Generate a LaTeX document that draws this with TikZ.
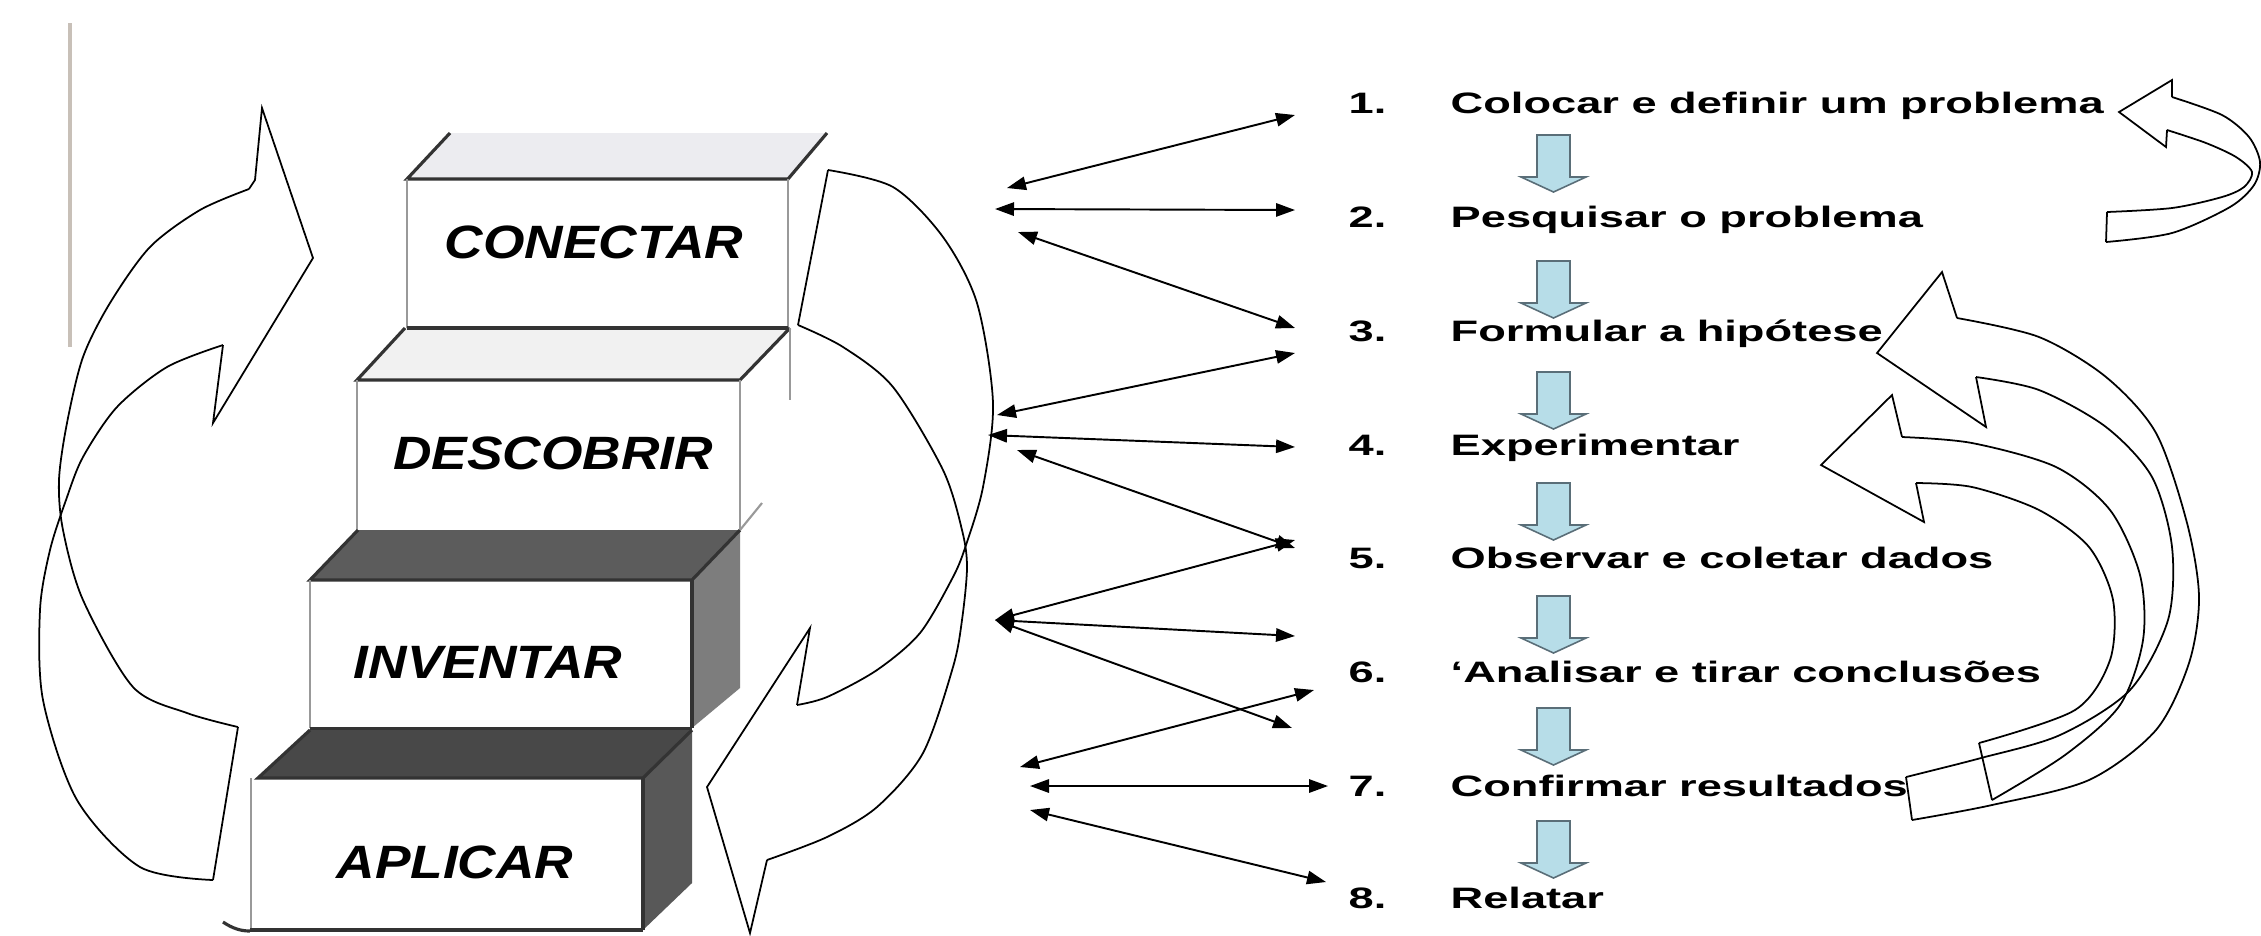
\documentclass[tikz,border=0pt]{standalone}
\usepackage{fontspec}
\setmainfont{Liberation Sans}
\usetikzlibrary{arrows.meta}
\definecolor{flowblue}{RGB}{183,221,232}
\definecolor{flowedge}{RGB}{90,110,120}
\definecolor{topone}{RGB}{236,236,240}
\definecolor{toptwo}{RGB}{241,241,241}
\definecolor{topthree}{RGB}{92,92,92}
\definecolor{topfour}{RGB}{72,72,72}
\definecolor{sidethree}{RGB}{125,125,125}
\definecolor{sidefour}{RGB}{88,88,88}
\definecolor{rulecol}{RGB}{200,192,184}
\newcommand{\myR}[1]{\scalebox{1.53}[1]{#1}}
\newcommand{\myL}[1]{\scalebox{1.14}[1]{#1}}
\newcommand{\flowdown}[1]{\draw[flow] (1537,#1) -- ++(33,0) -- ++(0,42) -- ++(16,0) -- ++(-32.5,15) -- ++(-32.5,-15) -- ++(16,0) -- cycle;}
\begin{document}
\begin{tikzpicture}[x=0.01cm,y=-0.01cm,
  edge/.style={line width=0.5pt,black,line join=miter},
  conn/.style={line width=0.55pt,black,{Triangle[length=5.4pt,width=3.8pt]}-{Triangle[length=5.4pt,width=3.8pt]}},
  flow/.style={fill=flowblue,draw=flowedge,line width=0.45pt},
  stairdark/.style={draw=black!80,line width=0.9pt},
  stairlight/.style={draw=black!40,line width=0.6pt},
  stairlbl/.style={font=\fontsize{13.3}{14}\selectfont\bfseries\itshape,inner sep=0pt,anchor=base},
  steptxt/.style={font=\fontsize{8.4}{9}\selectfont\bfseries,inner sep=0pt,anchor=base west},
]
\useasboundingbox (0,0) rectangle (2261,935);
\fill[white] (0,0) rectangle (2261,935);

% left thin rule
\draw[rulecol,line width=0.9pt] (70,23) -- (70,347);

% ---------- stairs ----------
% CONECTAR
\fill[topone] (407,179) -- (450,133) -- (827,133) -- (788,179) -- cycle;
\fill[white] (407,179) rectangle (788,328);
\draw[stairdark] (450,133) -- (407,179) -- (788,179) -- (827,133);
\draw[stairlight] (407,179) -- (407,328);
\draw[stairlight] (788,179) -- (788,328);
% DESCOBRIR
\fill[toptwo] (357,380) -- (405,328) -- (790,328) -- (740,380) -- cycle;
\fill[white] (357,380) rectangle (740,530);
\draw[stairdark] (405,328) -- (357,380) -- (740,380) -- (790,328);
\draw[stairdark] (407,328) -- (788,328);
\draw[stairlight] (357,380) -- (357,530);
\draw[stairlight] (740,380) -- (740,530);
\draw[stairlight] (790,328) -- (790,400);
% INVENTAR
\fill[topthree] (310,580) -- (358,530) -- (740,530) -- (692,580) -- cycle;
\fill[sidethree] (692,580) -- (740,530) -- (740,688) -- (692,728) -- cycle;
\fill[white] (310,580) rectangle (692,728);
\draw[stairdark] (358,530) -- (310,580) -- (692,580) -- (740,530);
\draw[stairlight] (740,530) -- (762,503);
\draw[stairdark] (692,580) -- (692,728);
\draw[stairlight] (310,580) -- (310,728);
\draw[stairdark] (310,729) -- (692,729);
% APLICAR
\fill[topfour] (258,778) -- (310,730) -- (692,730) -- (643,778) -- cycle;
\fill[sidefour] (643,778) -- (692,730) -- (692,883) -- (643,930) -- cycle;
\fill[white] (251,778) rectangle (643,930);
\draw[stairdark] (310,730) -- (258,778) -- (643,778) -- (692,730);
\draw[stairdark] (643,778) -- (643,930);
\draw[stairlight] (251,778) -- (251,930);
\draw[stairdark] (250,930) -- (643,930);
\draw[stairdark] (223,922) .. controls (232,928) and (240,931) .. (250,931);

% stair labels
\node[stairlbl] (conectar) at (594,258) {\myL{CONECTAR}};
\node[stairlbl] (descobrir) at (553,469) {\myL{DESCOBRIR}};
\node[stairlbl] (inventar) at (488,678) {\myL{INVENTAR}};
\node[stairlbl] (aplicar) at (455,878) {\myL{APLICAR}};

% ---------- left curved arrow ----------
\draw[edge] (249,189) -- (255,180) -- (262,108) -- (313,258) -- (213,423) -- (223,345);
\draw[edge] plot[smooth] coordinates {(249,189) (200,210) (150,247) (110,303) (83,357) (67,423) (59,480) (63,530) (83,600) (133,687) (187,713) (238,727)};
\draw[edge] plot[smooth] coordinates {(223,345) (167,367) (117,407) (83,457) (66,500) (50,550) (40,610) (43,700) (77,800) (140,867) (213,880)};
\draw[edge] (238,727) -- (213,880);

% ---------- right-of-stairs curved arrow ----------
\draw[edge] (828,170) -- (798,325);
\draw[edge] plot[smooth] coordinates {(828,170) (893,187) (943,237) (977,303) (993,403) (983,487) (966,545) (953,577) (920,633) (877,670) (827,697) (797,705)};
\draw[edge] plot[smooth] coordinates {(798,325) (843,347) (893,387) (943,470) (962,530) (967,567) (962,620) (953,667) (923,753) (877,807) (827,837) (767,860)};
\draw[edge] (767,860) -- (750,933) -- (707,787) -- (810,628) -- (797,705);

% ---------- list ----------
\node[steptxt] (n1) at (1348,113) {\myR{1.}};
\node[steptxt] (t1) at (1450,113) {\myR{Colocar e definir um problema}};
\node[steptxt] (n2) at (1348,227) {\myR{2.}};
\node[steptxt] (t2) at (1450,227) {\myR{Pesquisar o problema}};
\node[steptxt] (n3) at (1348,341) {\myR{3.}};
\node[steptxt] (t3) at (1450,341) {\myR{Formular a hipótese}};
\node[steptxt] (n4) at (1348,455) {\myR{4.}};
\node[steptxt] (t4) at (1450,455) {\myR{Experimentar}};
\node[steptxt] (n5) at (1348,568) {\myR{5.}};
\node[steptxt] (t5) at (1450,568) {\myR{Observar e coletar dados}};
\node[steptxt] (n6) at (1348,682) {\myR{6.}};
\node[steptxt] (t6) at (1450,682) {\myR{‘Analisar e tirar conclusões}};
\node[steptxt] (n7) at (1348,796) {\myR{7.}};
\node[steptxt] (t7) at (1450,796) {\myR{Confirmar resultados}};
\node[steptxt] (n8) at (1348,908) {\myR{8.}};
\node[steptxt] (t8) at (1450,908) {\myR{Relatar}};

% blue down arrows
\flowdown{135}
\flowdown{261}
\flowdown{372}
\flowdown{483}
\flowdown{596}
\flowdown{708}
\flowdown{821}

% ---------- connectors ----------
\coordinate (La) at (1007,188); \coordinate (Ra) at (1295,115);
\coordinate (Lb) at (995,209);  \coordinate (Rb) at (1295,210);
\coordinate (Lc) at (1018,232); \coordinate (Rc) at (1295,328);
\coordinate (Ld) at (997,415);  \coordinate (Rd) at (1295,353);
\coordinate (Le) at (988,435);  \coordinate (Re) at (1295,447);
\coordinate (Lf) at (1017,450); \coordinate (Rf) at (1295,548);
\coordinate (Lg) at (995,620);  \coordinate (Rg) at (1295,540);
\coordinate (Rh) at (1295,636);
\coordinate (Ri) at (1292,728);
\coordinate (Lj) at (1020,767); \coordinate (Rj) at (1314,690);
\coordinate (Lk) at (1030,786); \coordinate (Rk) at (1328,786);
\coordinate (Ll) at (1030,810); \coordinate (Rl) at (1326,882);
\draw[conn] (La) -- (Ra);
\draw[conn] (Lb) -- (Rb);
\draw[conn] (Lc) -- (Rc);
\draw[conn] (Ld) -- (Rd);
\draw[conn] (Le) -- (Re);
\draw[conn] (Lf) -- (Rf);
\draw[conn] (Lg) -- (Rg);
\draw[conn] (Lg) -- (Rh);
\draw[conn] (Lg) -- (Ri);
\draw[conn] (Lj) -- (Rj);
\draw[conn] (Lk) -- (Rk);
\draw[conn] (Ll) -- (Rl);

% ---------- right curved arrows ----------
% top (to item 1)
\draw[edge] (2172,97) -- (2172,80) -- (2119,112) -- (2166,147) -- (2167,130);
\draw[edge] plot[smooth] coordinates {(2172,97) (2222,115) (2249,137) (2260,162) (2254,185) (2230,207) (2172,233) (2106,242)};
\draw[edge] plot[smooth] coordinates {(2167,130) (2206,143) (2236,157) (2252,172) (2244,187) (2222,197) (2172,208) (2107,212)};
\draw[edge] (2106,242) -- (2107,212);
% big (to item 3)
\draw[edge] (1957,318) -- (1942,272) -- (1877,353) -- (1986,427) -- (1976,377);
\draw[edge] plot[smooth] coordinates {(1957,318) (2039,337) (2106,377) (2156,433) (2187,523) (2199,597) (2189,663) (2156,730) (2089,780) (1992,805) (1912,820)};
\draw[edge] plot[smooth] coordinates {(1976,377) (2039,390) (2106,427) (2152,477) (2172,547) (2168,620) (2130,690) (2060,735) (1981,758) (1906,777)};
\draw[edge] (1906,777) -- (1912,820);
% small (to item 4)
\draw[edge] (1902,437) -- (1892,395) -- (1821,465) -- (1924,522) -- (1916,483);
\draw[edge] plot[smooth] coordinates {(1902,437) (1972,443) (2056,467) (2110,510) (2140,575) (2143,640) (2120,705) (2065,755) (1992,800)};
\draw[edge] plot[smooth] coordinates {(1916,483) (1972,487) (2039,510) (2089,547) (2113,600) (2110,660) (2075,710) (1979,743)};
\draw[edge] (1979,743) -- (1992,800);
\end{tikzpicture}
\end{document}
